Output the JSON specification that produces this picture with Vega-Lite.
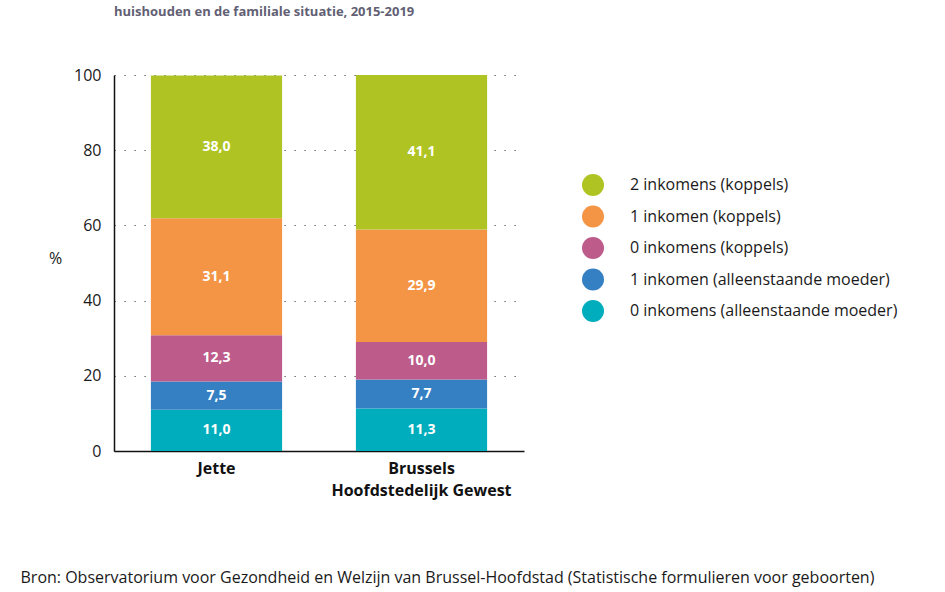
{
  "$schema": "https://vega.github.io/schema/vega-lite/v6.json",
  "width": 410,
  "height": 376,
  "autosize": {"type": "none"},
  "padding": {"left": 114, "top": 75, "right": 421, "bottom": 141},
  "background": "white",
  "title": {
    "text": "huishouden en de familiale situatie, 2015-2019",
    "anchor": "start",
    "frame": "group",
    "orient": "top",
    "font": "Open Sans",
    "fontSize": 13,
    "fontWeight": "bold",
    "color": "#625f74",
    "baseline": "bottom",
    "offset": 35
  },
  "data": {
    "values": [
      {"region": "Jette", "category": "0 inkomens (alleenstaande moeder)", "value": 11.0, "label": "11,0", "rank": 1},
      {"region": "Jette", "category": "1 inkomen (alleenstaande moeder)", "value": 7.5, "label": "7,5", "rank": 2},
      {"region": "Jette", "category": "0 inkomens (koppels)", "value": 12.3, "label": "12,3", "rank": 3},
      {"region": "Jette", "category": "1 inkomen (koppels)", "value": 31.1, "label": "31,1", "rank": 4},
      {"region": "Jette", "category": "2 inkomens (koppels)", "value": 38.0, "label": "38,0", "rank": 5},
      {"region": "Brussels|Hoofdstedelijk Gewest", "category": "0 inkomens (alleenstaande moeder)", "value": 11.3, "label": "11,3", "rank": 1},
      {"region": "Brussels|Hoofdstedelijk Gewest", "category": "1 inkomen (alleenstaande moeder)", "value": 7.7, "label": "7,7", "rank": 2},
      {"region": "Brussels|Hoofdstedelijk Gewest", "category": "0 inkomens (koppels)", "value": 10.0, "label": "10,0", "rank": 3},
      {"region": "Brussels|Hoofdstedelijk Gewest", "category": "1 inkomen (koppels)", "value": 29.9, "label": "29,9", "rank": 4},
      {"region": "Brussels|Hoofdstedelijk Gewest", "category": "2 inkomens (koppels)", "value": 41.1, "label": "41,1", "rank": 5}
    ]
  },
  "transform": [
    {"stack": "value", "groupby": ["region"], "sort": [{"field": "rank", "order": "ascending"}], "as": ["v0", "v1"]},
    {"calculate": "(datum.v0 + datum.v1) / 2", "as": "mid"}
  ],
  "encoding": {
    "x": {
      "field": "region",
      "type": "nominal",
      "sort": ["Jette", "Brussels|Hoofdstedelijk Gewest"],
      "scale": {"paddingInner": 0.36, "paddingOuter": 0.18},
      "axis": {
        "title": "Bron: Observatorium voor Gezondheid en Welzijn van Brussel-Hoofdstad (Statistische formulieren voor geboorten)",
        "titleX": -94,
        "titleY": 126,
        "titleAlign": "left",
        "titleAnchor": "start",
        "titleBaseline": "middle",
        "titleFont": "Open Sans",
        "titleFontSize": 16,
        "titleFontWeight": "normal",
        "titleColor": "#1a1a1a",
        "titleLimit": 1000,
        "labelAngle": 0,
        "labelExpr": "split(datum.label, '|')",
        "labelFont": "Open Sans",
        "labelFontWeight": "bold",
        "labelFontSize": 16,
        "labelColor": "#111111",
        "labelPadding": 9,
        "labelLineHeight": 22,
        "labelBaseline": "top",
        "labelLimit": 400,
        "ticks": false,
        "domainColor": "#111111",
        "domainWidth": 1.5,
        "grid": false
      }
    }
  },
  "layer": [
    {
      "mark": {"type": "bar"},
      "encoding": {
        "y": {
          "field": "v0",
          "type": "quantitative",
          "scale": {"domain": [0, 100], "nice": false},
          "axis": {
            "title": "%",
            "titleAngle": 0,
            "titleX": -59,
            "titleY": 183,
            "titleAlign": "center",
            "titleBaseline": "middle",
            "titleFont": "Open Sans",
            "titleFontSize": 16,
            "titleFontWeight": "normal",
            "titleColor": "#1a1a1a",
            "values": [0, 20, 40, 60, 80, 100],
            "grid": true,
            "gridDash": [1.2, 8.8],
            "gridColor": "#444444",
            "gridWidth": 1,
            "ticks": false,
            "labelPadding": 13,
            "labelFont": "Open Sans",
            "labelFontSize": 16,
            "labelColor": "#1a1a1a",
            "domainColor": "#111111",
            "domainWidth": 1.5
          }
        },
        "y2": {"field": "v1"},
        "color": {
          "field": "category",
          "type": "nominal",
          "scale": {
            "domain": ["2 inkomens (koppels)", "1 inkomen (koppels)", "0 inkomens (koppels)", "1 inkomen (alleenstaande moeder)", "0 inkomens (alleenstaande moeder)"],
            "range": ["#afc423", "#f39545", "#bd5b8b", "#3580c3", "#00adbd"]
          },
          "legend": {
            "orient": "none",
            "legendX": 468,
            "legendY": 99,
            "title": null,
            "padding": 0,
            "symbolType": "circle",
            "symbolSize": 484,
            "symbolStrokeWidth": 0,
            "symbolOpacity": 1,
            "labelFont": "Open Sans",
            "labelFontSize": 16,
            "labelColor": "#1a1a1a",
            "labelOffset": 26,
            "rowPadding": 9.5,
            "labelLimit": 400
          }
        }
      }
    },
    {
      "mark": {"type": "text", "color": "white", "font": "Open Sans", "fontWeight": "bold", "fontSize": 14, "baseline": "middle"},
      "encoding": {
        "y": {"field": "mid", "type": "quantitative"},
        "text": {"field": "label"}
      }
    }
  ],
  "config": {
    "view": {"stroke": null}
  }
}
